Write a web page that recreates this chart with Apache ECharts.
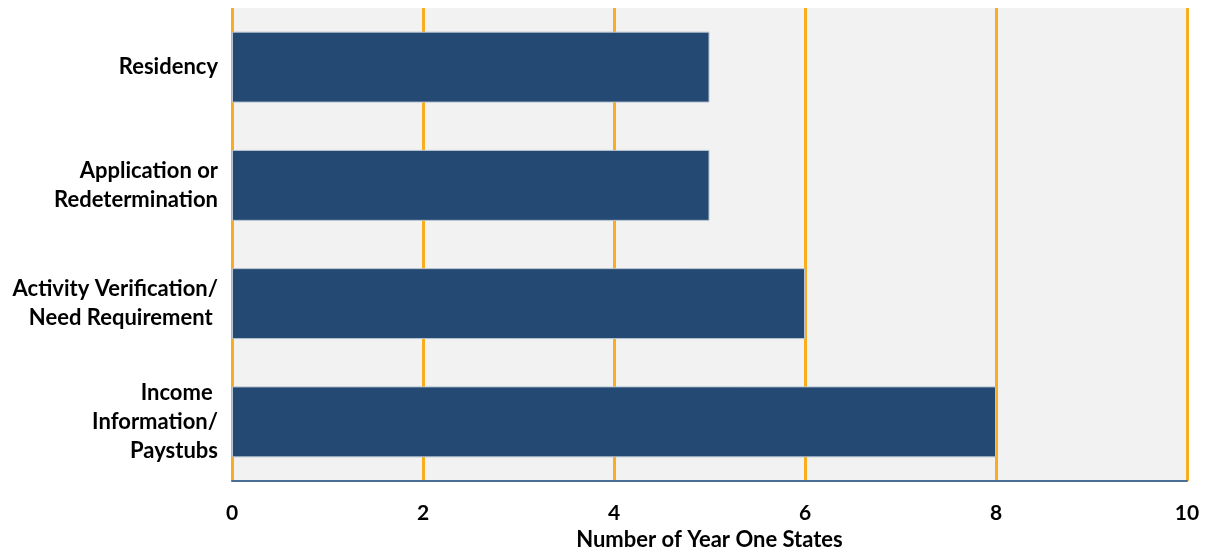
<!DOCTYPE html>
<html><head><meta charset="utf-8">
<script src="https://cdn.jsdelivr.net/npm/echarts@6/dist/echarts.min.js"></script>
<style>html,body{margin:0;padding:0;background:#fff}#c{width:1206px;height:548px}</style>
</head><body><div id="c"></div>
<script>
const categories = ["Income \nInformation/\nPaystubs", "Activity Verification/\nNeed Requirement ", "Application or\nRedetermination", "Residency"];
const values = [8, 6, 5, 5];
const xTicks = [0, 2, 4, 6, 8, 10];
const FONT = "Lato, 'Open Sans', sans-serif";
const chart = echarts.init(document.getElementById('c'));
chart.setOption({
  animation: false,
  grid: {left: 232, right: 19, top: 8, bottom: 67, show: true, backgroundColor: '#f2f2f2', borderWidth: 0, outerBoundsMode: 'none', containLabel: false},
  xAxis: {
    type: 'value', min: xTicks[0], max: xTicks[xTicks.length-1], interval: 2,
    axisLine: {show: true, lineStyle: {color: '#4a6f96', width: 2}},
    axisTick: {show: false},
    splitLine: {show: true, lineStyle: {color: '#f9ad1f', width: 3}},
    axisLabel: {color: '#000', fontFamily: FONT, fontWeight: 'bold', fontSize: 21, margin: 22},
    name: 'Number of Year One States', nameLocation: 'middle', nameGap: 47,
    nameTextStyle: {color: '#000', fontFamily: FONT, fontWeight: 'bold', fontSize: 22}
  },
  yAxis: {
    type: 'category', data: categories,
    axisLine: {show: false}, axisTick: {show: false},
    axisLabel: {color: '#000', fontFamily: FONT, fontWeight: 'bold', fontSize: 22, lineHeight: 29, margin: 14, align: 'right'}
  },
  series: [{
    type: 'bar', data: values, barCategoryGap: '40%',
    itemStyle: {color: '#244a73', borderColor: '#b8c4d2', borderWidth: 1}
  }]
});
</script></body></html>
